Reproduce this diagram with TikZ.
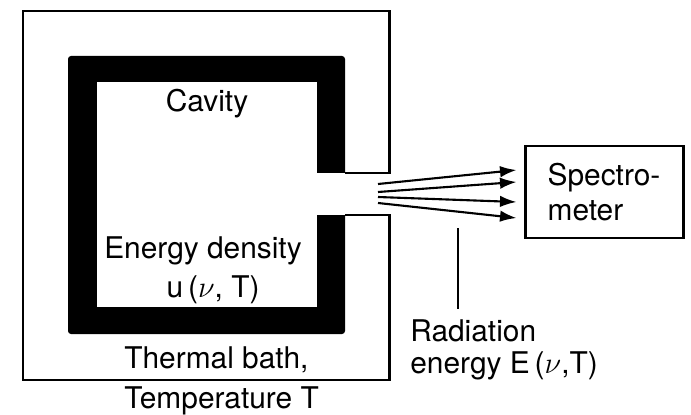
\documentclass[tikz,border=0pt]{standalone}
\usepackage{fontspec}
\setmainfont{TeX Gyre Heros}
\usetikzlibrary{arrows.meta,calc}

\begin{document}
\begin{tikzpicture}[x=0.2mm, y=-0.2mm,
    lbl/.style={inner sep=0pt, font=\fontsize{17}{19.9}\selectfont},
    ray/.style={-{Latex[length=3.3mm,width=2.3mm]}, line width=1.2pt},
    bath/.style={line width=1.7pt}]
  \useasboundingbox (0,0) rectangle (691,415);
  % black wall of the cavity, slot cut on the right
  \fill[black, rounded corners=0.6mm] (68,56) rectangle (345,334);
  \fill[white] (97,82) rectangle (317,307);
  \fill[white] (316,173) rectangle (346,215);
  % thermal bath
  \draw[bath] (345,173) -- (389,173) -- (389,11) -- (23,11) -- (23,380) -- (389,380) -- (389,215) -- (345,215);
  \node[lbl, anchor=base] (cav) at (207,112) {Cavity};
  \node[lbl, anchor=base] (dens) at (203,258) {Energy density};
  \node[lbl, anchor=base] (udens) at (213,297) {u\,($\nu$, T)};
  \node[lbl, anchor=base west] (bathlbl) at (124,368) {Thermal bath,};
  \node[lbl, anchor=base west] (temp) at (124,408) {Temperature T};
  % spectrometer
  \node[lbl, draw, line width=1.7pt, minimum width=31.6mm, minimum height=18.4mm, align=left] (spec) at (604,192) {Spectro-\\meter};
  \coordinate (hole) at (378,193.5);
  \foreach \a/\b in {-9.5/-22, -1.5/-10, 3.5/10, 9.5/26}
    { \draw[ray] ($(hole)+(0,\a)$) -- ($(spec.west)+(-7,\b)$); }
  \node[lbl, anchor=base west] (rad) at (410,341) {Radiation};
  \node[lbl, anchor=base west] (radE) at (410,373) {energy E\,($\nu$,T)};
  \coordinate (ptr) at (458,228);
  \draw[line width=0.7pt] (ptr) -- ([yshift=2mm]ptr |- rad.north);
\end{tikzpicture}
\end{document}
